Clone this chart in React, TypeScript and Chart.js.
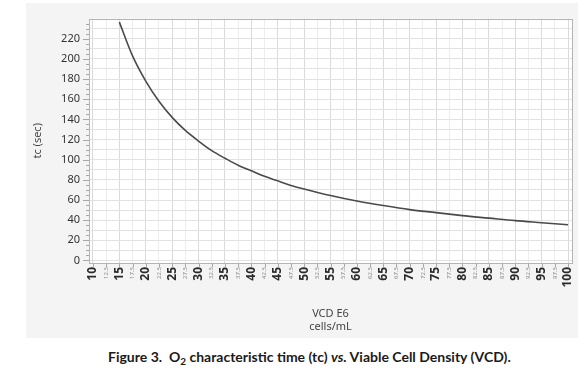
import React, { useEffect, useRef } from "react";
import { Chart, registerables } from "chart.js";

Chart.register(...registerables);

const vcd = [15, 17.5, 20, 22.5, 25, 27.5, 30, 32.5, 35, 37.5, 40, 42.5, 45, 47.5, 50, 55, 60, 65, 70, 75, 80, 85, 90, 95, 100];
const tc = [236.5, 203, 178, 158, 142, 129, 118.5, 109, 101.5, 94.5, 89, 83.5, 79, 74.5, 71, 64.5, 59, 54.5, 50.5, 47.5, 44.5, 42, 39.5, 37.5, 35.5];

const xTickValues = Array.from({ length: 37 }, (_, i) => 10 + i * 2.5);
const yTickValues = Array.from({ length: 48 }, (_, i) => i * 5);

const xTitle = ["VCD E6", "cells/mL"];
const yTitle = "tc (sec)";

const FONT = "'Noto Sans', 'Open Sans', sans-serif";

const plotDecor = {
  id: "plotDecor",
  beforeDraw(chart: any) {
    const { ctx, chartArea: a } = chart;
    ctx.save();
    ctx.fillStyle = "#ffffff";
    ctx.fillRect(a.left, a.top, a.right - a.left, a.bottom - a.top);
    ctx.restore();
  },
  afterDraw(chart: any) {
    const { ctx, chartArea: a } = chart;
    const xs = chart.scales.x;
    const ys = chart.scales.y;
    ctx.save();
    ctx.strokeStyle = "#a8a8a8";
    ctx.lineWidth = 1;
    ctx.beginPath();
    ys.ticks.forEach((t: any) => {
      const y = Math.round(ys.getPixelForValue(t.value)) + 0.5;
      const len = t.value % 20 === 0 ? 6 : 3;
      ctx.moveTo(a.left - len, y);
      ctx.lineTo(a.left, y);
    });
    xs.ticks.forEach((t: any) => {
      const x = Math.round(xs.getPixelForValue(t.value)) + 0.5;
      ctx.moveTo(x, a.bottom);
      ctx.lineTo(x, a.bottom + 4);
    });
    ctx.stroke();
    ctx.strokeStyle = "#b4b4b4";
    ctx.strokeRect(Math.round(a.left) + 0.5, Math.round(a.top) + 0.5, Math.round(a.right - a.left), Math.round(a.bottom - a.top));
    ctx.restore();
  },
};

function ChartPanel() {
  const ref = useRef<HTMLCanvasElement | null>(null);
  useEffect(() => {
    if (!ref.current) return;
    const chart = new Chart(ref.current, {
      type: "line",
      data: {
        datasets: [
          {
            data: vcd.map((v, i) => ({ x: v, y: tc[i] })),
            borderColor: "#4a4a4a",
            borderWidth: 1.6,
            pointRadius: 0,
            cubicInterpolationMode: "monotone",
            fill: false,
          },
        ],
      },
      options: {
        animation: false,
        responsive: true,
        maintainAspectRatio: false,
        layout: { padding: { left: 0, top: 8, right: 6, bottom: 0 } },
        plugins: { legend: { display: false }, tooltip: { enabled: false } },
        scales: {
          x: {
            type: "linear",
            min: 9.25,
            max: 100.75,
            afterBuildTicks: (s: any) => {
              s.ticks = xTickValues.map((v) => ({ value: v }));
            },
            afterFit: (s: any) => {
              s.height = 75;
              s.paddingLeft = 0;
              s.paddingRight = 0;
            },
            border: { display: false },
            grid: {
              drawTicks: false,
              color: (c: any) => (c.tick && c.tick.value % 5 === 0 ? "#dadada" : "#ededed"),
            },
            ticks: {
              autoSkip: false,
              minRotation: 90,
              maxRotation: 90,
              padding: 4,
              callback: (v: any) => String(v),
              color: (c: any) => (c.tick && c.tick.value % 5 === 0 ? "#2a2a2a" : "#8a8a8a"),
              font: (c: any) =>
                c.tick && c.tick.value % 5 === 0
                  ? { family: FONT, size: 12, weight: "bold" }
                  : { family: FONT, size: 6 },
            },
            title: {
              display: true,
              text: xTitle,
              color: "#444",
              font: { family: FONT, size: 11, lineHeight: 1.25 },
              padding: { top: 0, bottom: 4 },
            },
          },
          y: {
            type: "linear",
            min: -2.5,
            max: 240,
            afterBuildTicks: (s: any) => {
              s.ticks = yTickValues.map((v) => ({ value: v }));
            },
            afterFit: (s: any) => {
              s.width = 63;
            },
            border: { display: false },
            grid: {
              drawTicks: false,
              color: (c: any) => (c.tick && c.tick.value % 10 === 0 ? "#e2e2e2" : "transparent"),
            },
            ticks: {
              autoSkip: false,
              padding: 9,
              color: "#333",
              font: { family: FONT, size: 11 },
              callback: (v: any) => (Number(v) % 20 === 0 ? String(v) : ""),
            },
            title: {
              display: true,
              text: yTitle,
              color: "#444",
              font: { family: FONT, size: 11, lineHeight: 1.2 },
              padding: { top: 5, bottom: 0 },
            },
          },
        },
      },
      plugins: [plotDecor],
    });
    return () => chart.destroy();
  }, []);
  return <canvas ref={ref} />;
}

export default function App() {
  return (
    <div style={{ position: "absolute", left: 0, top: 0, width: 583, height: 373, background: "#ffffff", overflow: "hidden" }}>
      <div style={{ position: "absolute", left: 26, top: 3, width: 552, height: 335, background: "#f4f4f4" }}>
        <ChartPanel />
      </div>
      <div
        style={{
          position: "absolute",
          left: 108,
          top: 348,
          whiteSpace: "nowrap",
          fontFamily: "Lato, 'Open Sans', sans-serif",
          fontWeight: 700,
          fontSize: 14,
          color: "#1a1a1a",
          lineHeight: "17px",
        }}
      >
        Figure 3.&nbsp; O<sub style={{ fontSize: 10, verticalAlign: "-3px", lineHeight: 0 }}>2</sub> characteristic time (tc){" "}
        <i>vs.</i> Viable Cell Density (VCD).
      </div>
    </div>
  );
}
